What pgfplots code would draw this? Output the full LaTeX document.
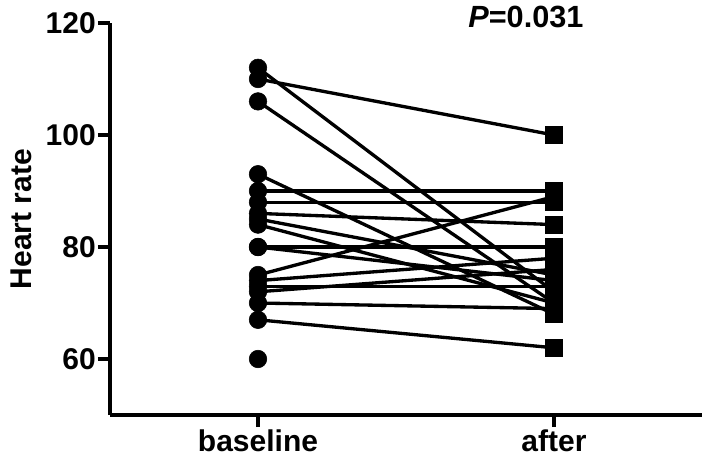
\documentclass[border=0pt]{standalone}
\usepackage{fontspec}
\setmainfont{Liberation Sans}
\usepackage{pgfplots}
\pgfplotsset{compat=1.18}

\pgfplotsset{pair/.style={black, line width=2.5pt, no marks}}

\begin{document}
\begin{tikzpicture}
\begin{axis}[
    name=ax,
    scale only axis,
    width=444pt, height=294pt,
    xmin=-0.5, xmax=1.5,
    ymin=50, ymax=120,
    axis lines*=left,
    axis line style={line width=2.8pt},
    every tick/.style={black, line width=2.8pt},
    major tick length=9pt,
    tick align=outside,
    xtick={0,1},
    xticklabels={baseline, after},
    ytick={60,80,100,120},
    ticklabel style={font=\fontsize{22.5}{26}\selectfont\bfseries, inner sep=1.5pt},
    /pgf/number format/assume math mode=true,
    ylabel={Heart rate},
    ylabel style={font=\fontsize{22.5}{26}\selectfont\bfseries, at={(axis description cs:-0.149,0.5)}, anchor=center},
    clip=false,
]
\coordinate (O) at (rel axis cs:0,0);

% paired observations
\addplot[pair] coordinates {(0,112) (1,72)};
\addplot[pair] coordinates {(0,110) (1,100)};
\addplot[pair] coordinates {(0,106) (1,70)};
\addplot[pair] coordinates {(0,93) (1,68)};
\addplot[pair] coordinates {(0,90) (1,90)};
\addplot[pair] coordinates {(0,88) (1,88)};
\addplot[pair] coordinates {(0,86) (1,84)};
\addplot[pair] coordinates {(0,85) (1,75)};
\addplot[pair] coordinates {(0,84) (1,70)};
\addplot[pair] coordinates {(0,80) (1,80)};
\addplot[pair] coordinates {(0,80) (1,74)};
\addplot[pair] coordinates {(0,75) (1,89)};
\addplot[pair] coordinates {(0,74) (1,78)};
\addplot[pair] coordinates {(0,73) (1,73)};
\addplot[pair] coordinates {(0,72) (1,76)};
\addplot[pair] coordinates {(0,70) (1,69)};
\addplot[pair] coordinates {(0,67) (1,62)};

% baseline
\addplot[only marks, mark=*, mark size=6.6pt, black] coordinates {
    (0,112) (0,110) (0,106) (0,93) (0,90) (0,88) (0,86) (0,85) (0,84)
    (0,80) (0,80) (0,75) (0,74) (0,73) (0,72) (0,70) (0,67) (0,60)
};
% after
\addplot[only marks, mark=square*, mark size=6.4pt, black] coordinates {
    (1,72) (1,100) (1,70) (1,68) (1,90) (1,88) (1,84) (1,75) (1,70)
    (1,80) (1,74) (1,89) (1,78) (1,73) (1,76) (1,69) (1,62)
};

\node[font=\fontsize{23}{26}\selectfont\bfseries] at (axis cs:0.905,121.1) {\textit{P}=0.031};
\end{axis}
\pgfresetboundingbox
\path ([shift={(-82.5pt,-34.5pt)}]O) rectangle ([shift={(449.25pt,311.25pt)}]O);
\end{tikzpicture}
\end{document}
